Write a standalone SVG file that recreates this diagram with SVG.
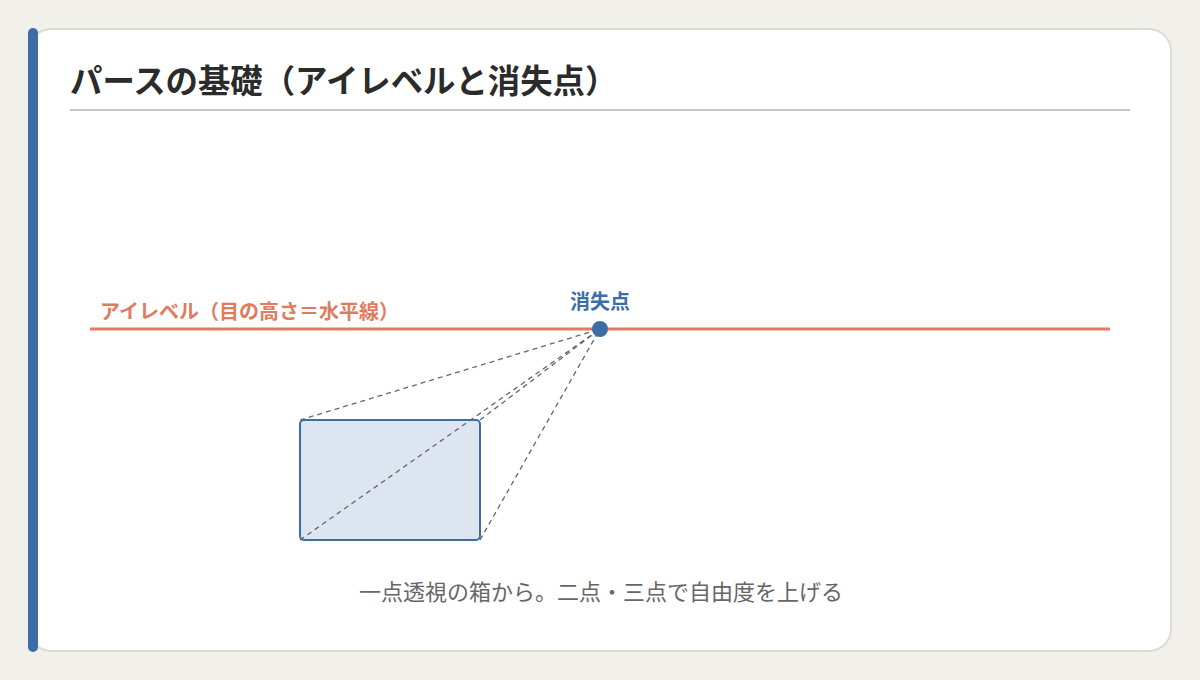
<svg xmlns="http://www.w3.org/2000/svg" width="1200" height="680" viewBox="0 0 1200 680">
<style>
.jp{font-family:"Noto Sans CJK JP","Noto Sans",sans-serif}
.title{font-size:32.4px;font-weight:700;fill:#2b2b2b}
.eye{font-size:20px;font-weight:700;fill:#e07b5f}
.vp{font-size:20px;font-weight:700;fill:#3a6ea5}
.cap{font-size:22px;fill:#666}
.ray{stroke:#666;stroke-width:1.3;stroke-dasharray:5 4;fill:none}
</style>
<rect x="0" y="0" width="1200" height="680" fill="#f1f0eb"/>
<rect x="29" y="29" width="1142" height="622" rx="22" fill="#ffffff" stroke="#dddbd5" stroke-width="2"/>
<rect x="28" y="28" width="10" height="624" rx="5" fill="#3a6ea5"/>
<text class="jp title" x="70" y="93">パースの基礎（アイレベルと消失点）</text>
<line x1="70" y1="110" x2="1130" y2="110" stroke="#c8c6c0" stroke-width="2"/>
<g id="eyelevel">
<line x1="90" y1="329" x2="1110" y2="329" stroke="#e07b5f" stroke-width="3"/>
<text class="jp eye" x="100" y="319">アイレベル（目の高さ＝水平線）</text>
</g>
<g id="box">
<rect x="300" y="420" width="180" height="120" rx="4" fill="#dde6f0" stroke="#3a6ea5" stroke-width="2"/>
</g>
<g id="connectors">
<line class="ray" x1="300" y1="420" x2="600" y2="329"/>
<line class="ray" x1="480" y1="420" x2="600" y2="329"/>
<line class="ray" x1="300" y1="540" x2="600" y2="329"/>
<line class="ray" x1="480" y1="540" x2="600" y2="329"/>
</g>
<g id="vanishing-point">
<circle cx="600" cy="329" r="8" fill="#3a6ea5"/>
<text class="jp vp" x="600" y="309" text-anchor="middle">消失点</text>
</g>
<text class="jp cap" x="601" y="600" text-anchor="middle">一点透視の箱から。二点・三点で自由度を上げる</text>
</svg>
